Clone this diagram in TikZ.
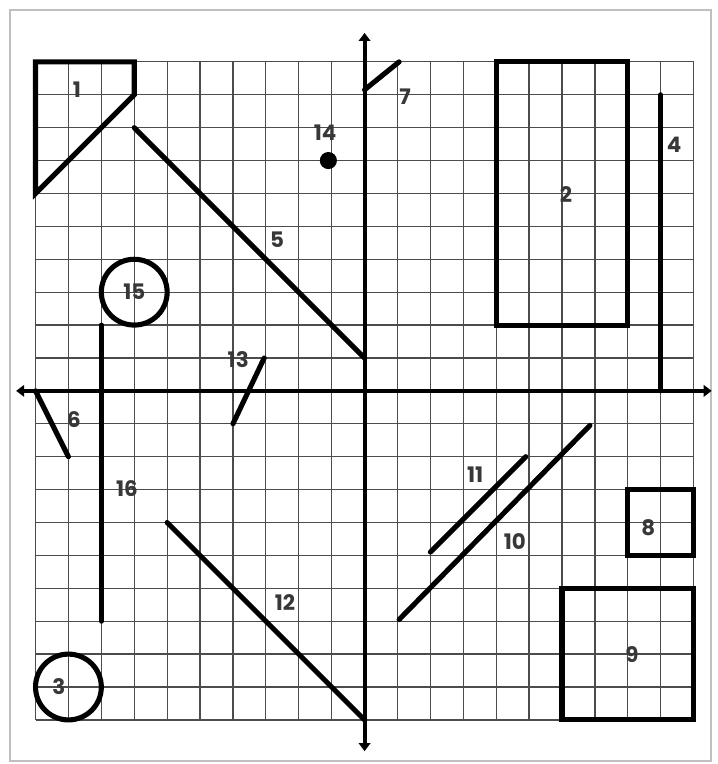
\documentclass[tikz,border=0pt]{standalone}
\usepackage{fontspec}
\setmainfont{Poppins}
\usetikzlibrary{arrows.meta}
\begin{document}
\begin{tikzpicture}[x=1cm,y=1cm,
  shp/.style={line width=4.4pt, line cap=round, line join=round},
  boxshp/.style={line width=4.4pt, line join=miter},
  axisline/.style={line width=3.4pt, {Triangle[width=10pt,length=7pt]}-{Triangle[width=10pt,length=7pt]}},
  gridline/.style={black!70, line width=1.1pt},
  lbl/.style={font=\bfseries\fontsize{18.5}{18.5}\selectfont, text=black!78, inner sep=0pt}]
\useasboundingbox (-11.08,-11.34) rectangle (10.74,11.88);
\fill[white] (-11.08,-11.34) rectangle (10.74,11.88);
\draw[black!25, line width=1.6pt] (-10.77,-11.25) rectangle (10.53,11.58);
\draw[gridline] (-10,-10) grid (10,10);
% axes
\coordinate (xl) at (-10.59,0);
\coordinate (xr) at (10.55,0);
\coordinate (yb) at (0,-10.95);
\coordinate (yt) at (0,10.88);
\draw[axisline] (xl) -- (xr);
\draw[axisline] (yb) -- (yt);
% shapes
\draw[boxshp] (-10,10) -- (-7,10) -- (-7,9) -- (-10,6) -- cycle;
\draw[boxshp] (4,2) rectangle (8,10);
\draw[shp] (-9,-9) circle (1);
\draw[shp] (9,9) -- (9,0);
\draw[shp] (-7,8) -- (0,1);
\draw[shp] (-10,0) -- (-9,-2);
\draw[shp] (0,9.15) -- (1.05,10);
\draw[boxshp] (8,-3) rectangle (10,-5);
\draw[boxshp] (6,-6) rectangle (10,-10);
\draw[shp] (1.05,-6.95) -- (6.85,-1.05);
\draw[shp] (2,-4.9) -- (4.9,-2);
\draw[shp] (-6,-4) -- (0,-10);
\draw[shp] (-3.05,1) -- (-4,-1);
\fill (-1.1,7) circle (0.26);
\draw[shp] (-7,3) circle (1);
\draw[shp] (-8,2) -- (-8,-7);
% labels
\node[lbl] (l1) at (-8.74,9.15) {1};
\node[lbl] (l2) at (6.12,5.96) {2};
\node[lbl] (l3) at (-9.29,-9.0) {3};
\node[lbl] (l4) at (9.41,7.48) {4};
\node[lbl] (l5) at (-2.66,4.59) {5};
\node[lbl] (l6) at (-8.83,-0.88) {6};
\node[lbl] (l7) at (1.23,8.94) {7};
\node[lbl] (l8) at (8.62,-4.16) {8};
\node[lbl] (l9) at (8.13,-8.02) {9};
\node[lbl] (l10) at (4.57,-4.59) {10};
\node[lbl] (l11) at (3.36,-2.55) {11};
\node[lbl] (l12) at (-2.42,-6.44) {12};
\node[lbl] (l13) at (-3.84,0.94) {13};
\node[lbl] (l14) at (-1.2,7.84) {14};
\node[lbl] (l15) at (-7.0,3.0) {15};
\node[lbl] (l16) at (-7.22,-2.98) {16};
\end{tikzpicture}
\end{document}
